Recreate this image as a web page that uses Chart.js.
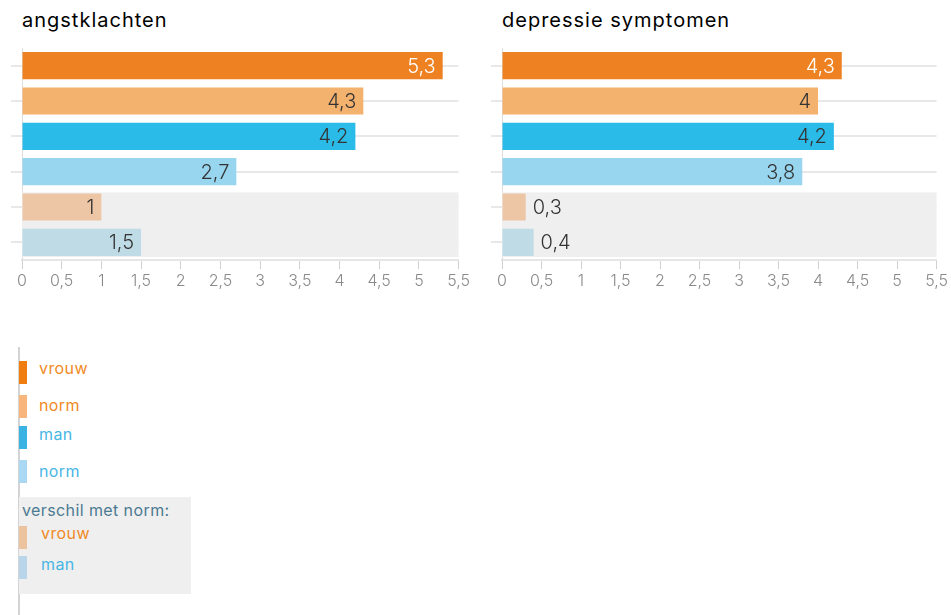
<!DOCTYPE html>
<html>
<head>
<meta charset="utf-8">
<script src="https://cdn.jsdelivr.net/npm/chart.js@4.4.1/dist/chart.umd.min.js"></script>
<style>
  body { margin: 0; background: #fff; font-family: 'Inter', 'Noto Sans', sans-serif; }
  #page { position: relative; width: 951px; height: 615px; overflow: hidden; }
  .title { position: absolute; top: 8px; font-size: 20px; font-weight: 400; letter-spacing: 1px; color: #000; }
  .box { position: absolute; }
  .legend-line { position: absolute; left: 18px; top: 347px; width: 2px; height: 268px; background: #d4d4d4; }
  .sw { position: absolute; left: 19px; width: 8px; height: 23px; }
  .lt { position: absolute; font-size: 16px; font-weight: 400; letter-spacing: 0.4px; line-height: 18px; }
  .diffbox { position: absolute; left: 19px; top: 497px; width: 172px; height: 97px; background: #efefef; }
</style>
</head>
<body>
<div id="page">
  <div class="title" style="left:22px">angstklachten</div>
  <div class="title" style="left:502px">depressie symptomen</div>
  <div class="box" style="left:0; top:40px; width:473px; height:260px"><canvas id="angstChart"></canvas></div>
  <div class="box" style="left:480px; top:40px; width:471px; height:260px"><canvas id="depressieChart"></canvas></div>

  <div class="legend-line"></div>
  <div class="diffbox"></div>
  <div class="sw" style="top:361px; background:#ef7d10"></div>
  <div class="lt" style="left:39px; top:359px; color:#ef8a24">vrouw</div>
  <div class="sw" style="top:395px; background:#f8b67c"></div>
  <div class="lt" style="left:39px; top:396px; color:#ef8a24">norm</div>
  <div class="sw" style="top:426px; background:#3ab2e2"></div>
  <div class="lt" style="left:39px; top:425px; color:#48b6e4">man</div>
  <div class="sw" style="top:460px; background:#aad8f3"></div>
  <div class="lt" style="left:39px; top:462px; color:#48b6e4">norm</div>
  <div class="lt" style="left:22px; top:501px; color:#4b7a92">verschil met norm:</div>
  <div class="sw" style="top:526px; background:#ecc39e"></div>
  <div class="lt" style="left:41px; top:524px; color:#ef8a24">vrouw</div>
  <div class="sw" style="top:556px; background:#b9d5e9"></div>
  <div class="lt" style="left:41px; top:555px; color:#48b6e4">man</div>
</div>

<script>
// data
const categories = ['vrouw', 'norm vrouw', 'man', 'norm man', 'verschil vrouw', 'verschil man'];
const angstValues = [5.3, 4.3, 4.2, 2.7, 1, 1.5];
const depressieValues = [4.3, 4, 4.2, 3.8, 0.3, 0.4];
const xMin = 0;
const xMax = 5.5;
const xStep = 0.5;

const barColors = ['#ee8222', '#f4b26f', '#2bbbe8', '#98d5ef', '#ecc6a5', '#bfdce6'];
const labelColors = ['#ffffff', '#333333', '#333333', '#333333', '#333333', '#333333'];
const diffStart = 4; // first category of the "verschil met norm" band

const fmt = v => String(v).replace('.', ',');
const FONT = "'Inter', 'Noto Sans', sans-serif";

// grey band behind the "verschil" bars
const bandPlugin = {
    id: 'band',
    beforeDatasetsDraw(chart) {
        const { ctx, chartArea } = chart;
        const bars = chart.getDatasetMeta(0).data;
        const first = bars[diffStart];
        const last = bars[bars.length - 1];
        const top = first.y - first.height / 2 - 1;
        const bottom = last.y + last.height / 2 + 1;
        ctx.save();
        ctx.fillStyle = '#efefef';
        ctx.fillRect(chartArea.left, top, chartArea.right - chartArea.left, bottom - top);
        ctx.restore();
    }
};

// value labels at the end of each bar
const valueLabels = {
    id: 'valueLabels',
    afterDatasetsDraw(chart) {
        const { ctx } = chart;
        const ds = chart.data.datasets[0];
        ctx.save();
        ctx.font = '300 20px ' + FONT;
        ctx.textBaseline = 'middle';
        ctx.lineJoin = 'round';
        chart.getDatasetMeta(0).data.forEach((bar, i) => {
            const text = fmt(ds.data[i]);
            const w = ctx.measureText(text).width;
            const inside = (bar.x - bar.base) > w + 14;
            const x = inside ? bar.x - 7 : bar.x + 7;
            ctx.textAlign = inside ? 'right' : 'left';
            ctx.lineWidth = 3;
            ctx.strokeStyle = inside ? barColors[i] : '#efefef';
            ctx.strokeText(text, x, bar.y + 1);
            ctx.fillStyle = inside ? labelColors[i] : '#333333';
            ctx.fillText(text, x, bar.y + 1);
        });
        ctx.restore();
    }
};

function makeChart(id, values) {
    const ctx = document.getElementById(id).getContext('2d');
    return new Chart(ctx, {
        type: 'bar',
        data: {
            labels: categories,
            datasets: [{
                data: values,
                backgroundColor: barColors,
                borderWidth: 0,
                categoryPercentage: 1,
                barPercentage: 0.77
            }]
        },
        options: {
            indexAxis: 'y',
            responsive: true,
            maintainAspectRatio: false,
            animation: false,
            layout: { padding: { top: 8, right: 4, left: 0, bottom: 0 } },
            scales: {
                x: {
                    min: xMin,
                    max: xMax,
                    ticks: {
                        stepSize: xStep,
                        color: '#8a8a8a',
                        font: { family: FONT, size: 16, weight: 300 },
                        padding: 3,
                        maxRotation: 0,
                        callback: v => fmt(v)
                    },
                    grid: { drawOnChartArea: false, drawTicks: true, tickLength: 9, color: '#d0d0d0' },
                    border: { color: '#e6e6e6', width: 2 },
                    afterFit(scale) { scale.height = 40; }
                },
                y: {
                    z: 1,
                    ticks: { display: false },
                    grid: { offset: false, color: 'rgba(190,190,190,0.35)', lineWidth: 2, tickLength: 11 },
                    border: { color: '#dddddd', width: 1 },
                    afterFit(scale) { scale.width = 22; }
                }
            },
            plugins: {
                legend: { display: false },
                title: { display: false },
                tooltip: { enabled: false }
            }
        },
        plugins: [bandPlugin, valueLabels]
    });
}

makeChart('angstChart', angstValues);
makeChart('depressieChart', depressieValues);
</script>
</body>
</html>
